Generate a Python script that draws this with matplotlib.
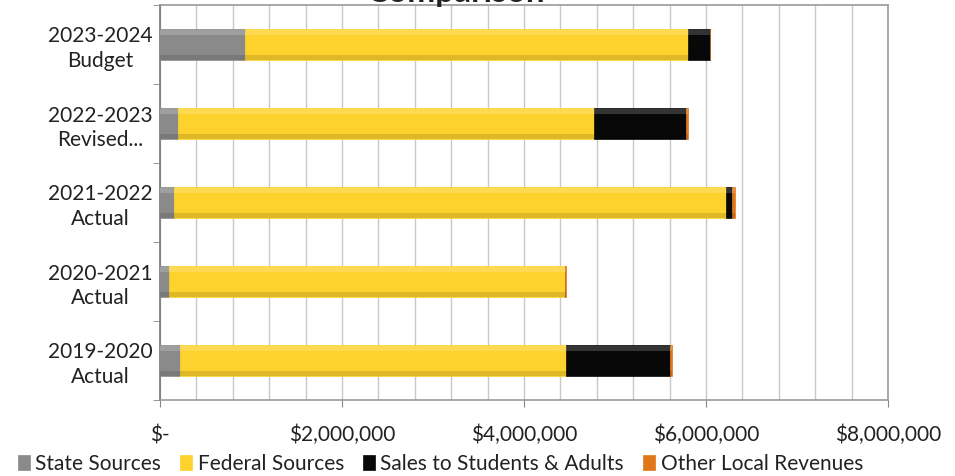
import matplotlib.pyplot as plt
from matplotlib.ticker import FixedLocator, MultipleLocator, FuncFormatter

# Revenue by source, one row per fiscal year (top to bottom as shown)
years = ["2023-2024\nBudget", "2022-2023\nRevised...", "2021-2022\nActual",
         "2020-2021\nActual", "2019-2020\nActual"]
state_sources = [930000, 195000, 150000, 100000, 215000]
federal_sources = [4870000, 4575000, 6070000, 4350000, 4245000]
sales_students_adults = [240000, 1010000, 70000, 0, 1140000]
other_local = [0, 20000, 30000, 10000, 30000]

series = [
    ("State Sources", state_sources, "#8a8a8a"),
    ("Federal Sources", federal_sources, "#fdd22c"),
    ("Sales to Students & Adults", sales_students_adults, "#080808"),
    ("Other Local Revenues", other_local, "#e0781a"),
]

plt.rcParams["font.family"] = ["Lato", "DejaVu Sans"]
FS = 15

fig = plt.figure(figsize=(9.55, 4.76), dpi=100)
ax = fig.add_axes([160 / 955, 76 / 476, 728 / 955, 395 / 476])

ypos = list(range(len(years)))[::-1]
left = [0] * len(years)
for name, vals, color in series:
    ax.barh(ypos, vals, left=left, height=0.38, color=color, label=name,
            edgecolor=color, linewidth=0.5, zorder=3)
    # simple bevel: lighter band on top, darker band underneath
    ax.barh([y + 0.15 for y in ypos], vals, left=left, height=0.06,
            color="white", alpha=0.18, linewidth=0, zorder=4)
    ax.barh([y - 0.16 for y in ypos], vals, left=left, height=0.06,
            color="black", alpha=0.12, linewidth=0, zorder=4)
    left = [a + b for a, b in zip(left, vals)]

ax.set_xlim(0, 8000000)
ax.set_ylim(-0.5, len(years) - 0.5)
ax.xaxis.set_major_locator(MultipleLocator(2000000))
ax.xaxis.set_minor_locator(MultipleLocator(400000))
ax.xaxis.set_major_formatter(FuncFormatter(
    lambda v, p: "$-" if v == 0 else f"${v:,.0f}"))
ax.grid(axis="x", which="both", color="#c8c8c8", linewidth=1.0, zorder=0)
ax.set_axisbelow(True)

ax.set_yticks(ypos)
ax.set_yticklabels(years, fontsize=FS, color="#222222", ha="center",
                   linespacing=1.3)
ax.yaxis.set_minor_locator(FixedLocator([y + 0.5 for y in range(-1, len(years))]))
ax.tick_params(axis="y", which="major", length=0, pad=43)
ax.tick_params(axis="y", which="minor", length=5, color="#888888")
ax.tick_params(axis="x", which="major", length=5, color="#888888",
               labelsize=FS, labelcolor="#222222", pad=13)
ax.tick_params(axis="x", which="minor", length=0)

for side in ["top", "right"]:
    ax.spines[side].set_color("#9a9a9a")
ax.spines["left"].set_color("#777777")
ax.spines["bottom"].set_color("#9a9a9a")
for s in ax.spines.values():
    s.set_linewidth(1.2)

fig.text(0.478, 1.015, "Comparison", ha="center", va="center",
         fontsize=24, fontweight="bold", color="#222222")

ax.legend(loc="lower center", bbox_to_anchor=(0.385, -0.235), ncol=4,
          frameon=False, fontsize=FS, handlelength=0.6, handleheight=0.7,
          handletextpad=0.25, columnspacing=0.9, labelcolor="#222222")

fig.savefig("out.png", dpi=100)
